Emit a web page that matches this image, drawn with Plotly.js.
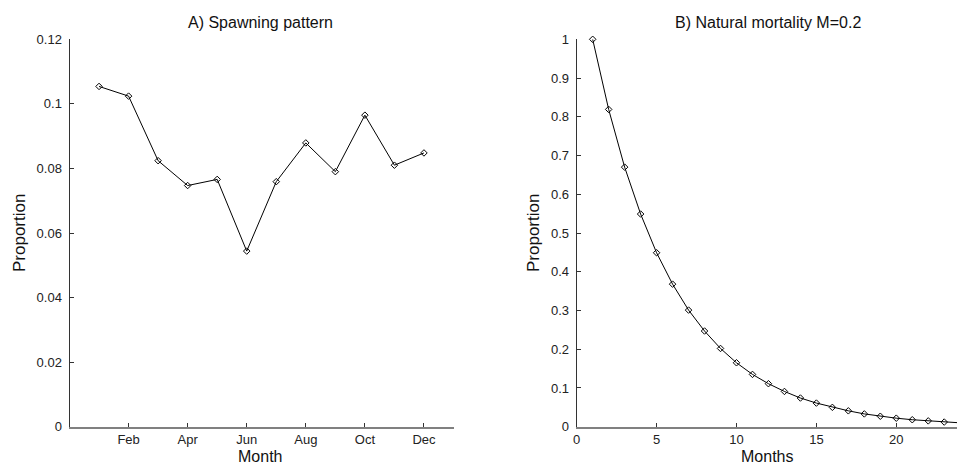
<!DOCTYPE html>
<html>
<head>
<meta charset="utf-8">
<script src="https://cdn.plot.ly/plotly-3.0.1.min.js"></script>
<style>html,body{margin:0;padding:0;background:#fff;}#chart{width:957px;height:464px;}</style>
</head>
<body>
<div id="chart"></div>
<script>
// Panel A: spawning pattern
const monthIndex = [1,2,3,4,5,6,7,8,9,10,11,12];
const spawning = [0.1054,0.1024,0.0824,0.0747,0.0766,0.0544,0.0759,0.0879,0.0790,0.0965,0.0810,0.0848];
const monthTickVals = [2,4,6,8,10,12];
const monthTickText = ['Feb','Apr','Jun','Aug','Oct','Dec'];

// Panel B: natural mortality M=0.2
const months = [1,2,3,4,5,6,7,8,9,10,11,12,13,14,15,16,17,18,19,20,21,22,23,24];
const survival = [1.000,0.819,0.670,0.549,0.449,0.368,0.301,0.247,0.202,0.165,0.135,0.111,0.091,0.074,0.061,0.050,0.041,0.033,0.027,0.022,0.018,0.015,0.012,0.010];

const FONT = 'Liberation Sans, Arial, sans-serif';
const W = 957, H = 464;
const px = v => v / W;
const py = v => (H - v) / H;

const lineStyle = {color:'#000', width:1};
const markerStyle = {symbol:'diamond-open', size:5, color:'#000', line:{color:'#000', width:1}};

const traces = [
  {x: monthIndex, y: spawning, type:'scatter', mode:'lines+markers', line: lineStyle, marker: markerStyle, xaxis:'x', yaxis:'y', cliponaxis:false},
  {x: months, y: survival, type:'scatter', mode:'lines+markers', line: lineStyle, marker: markerStyle, xaxis:'x2', yaxis:'y2', cliponaxis:false}
];

const xBase = {showgrid:false, zeroline:false, showline:true, linecolor:'#808080', linewidth:2, ticks:'inside', ticklen:4, tickcolor:'#333', tickfont:{family:FONT, size:13, color:'#222'}, ticklabelstandoff:0};
const yBase = {showgrid:false, zeroline:false, showline:true, linecolor:'#333', linewidth:1, ticks:'inside', ticklen:4, tickcolor:'#333', tickfont:{family:FONT, size:13, color:'#222'}, ticklabelstandoff:4};

const yDomain = [py(426.7), py(39.3)];

const layout = {
  width: W, height: H,
  margin: {l:0, r:0, t:0, b:0},
  paper_bgcolor:'#fff', plot_bgcolor:'#fff',
  showlegend:false,
  font:{family:FONT, color:'#222'},
  xaxis: Object.assign({}, xBase, {domain:[px(69.5), px(453.5)], range:[0,13], tickvals: monthTickVals, ticktext: monthTickText, anchor:'y'}),
  yaxis: Object.assign({}, yBase, {domain: yDomain, range:[0,0.12], tickvals:[0,0.02,0.04,0.06,0.08,0.1,0.12], anchor:'x'}),
  xaxis2: Object.assign({}, xBase, {domain:[px(576.7), 1], range:[0,23.8], tickvals:[0,5,10,15,20], anchor:'y2'}),
  yaxis2: Object.assign({}, yBase, {domain: yDomain, range:[0,1], tickvals:[0,0.1,0.2,0.3,0.4,0.5,0.6,0.7,0.8,0.9,1], anchor:'x2'}),
  annotations: [
    {text:'A) Spawning pattern', xref:'paper', yref:'paper', x:px(260), y:py(22), xanchor:'center', yanchor:'middle', showarrow:false, font:{family:FONT, size:16, color:'#111'}},
    {text:'B) Natural mortality M=0.2', xref:'paper', yref:'paper', x:px(768), y:py(22), xanchor:'center', yanchor:'middle', showarrow:false, font:{family:FONT, size:16, color:'#111'}},
    {text:'Month', xref:'paper', yref:'paper', x:px(260), y:py(456), xanchor:'center', yanchor:'middle', showarrow:false, font:{family:FONT, size:16, color:'#111'}},
    {text:'Months', xref:'paper', yref:'paper', x:px(767), y:py(456), xanchor:'center', yanchor:'middle', showarrow:false, font:{family:FONT, size:16, color:'#111'}},
    {text:'Proportion', xref:'paper', yref:'paper', x:px(19), y:py(233), xanchor:'center', yanchor:'middle', textangle:-90, showarrow:false, font:{family:FONT, size:17, color:'#111'}},
    {text:'Proportion', xref:'paper', yref:'paper', x:px(533), y:py(233), xanchor:'center', yanchor:'middle', textangle:-90, showarrow:false, font:{family:FONT, size:17, color:'#111'}}
  ]
};

Plotly.newPlot('chart', traces, layout, {displayModeBar:false, staticPlot:true});
</script>
</body>
</html>
